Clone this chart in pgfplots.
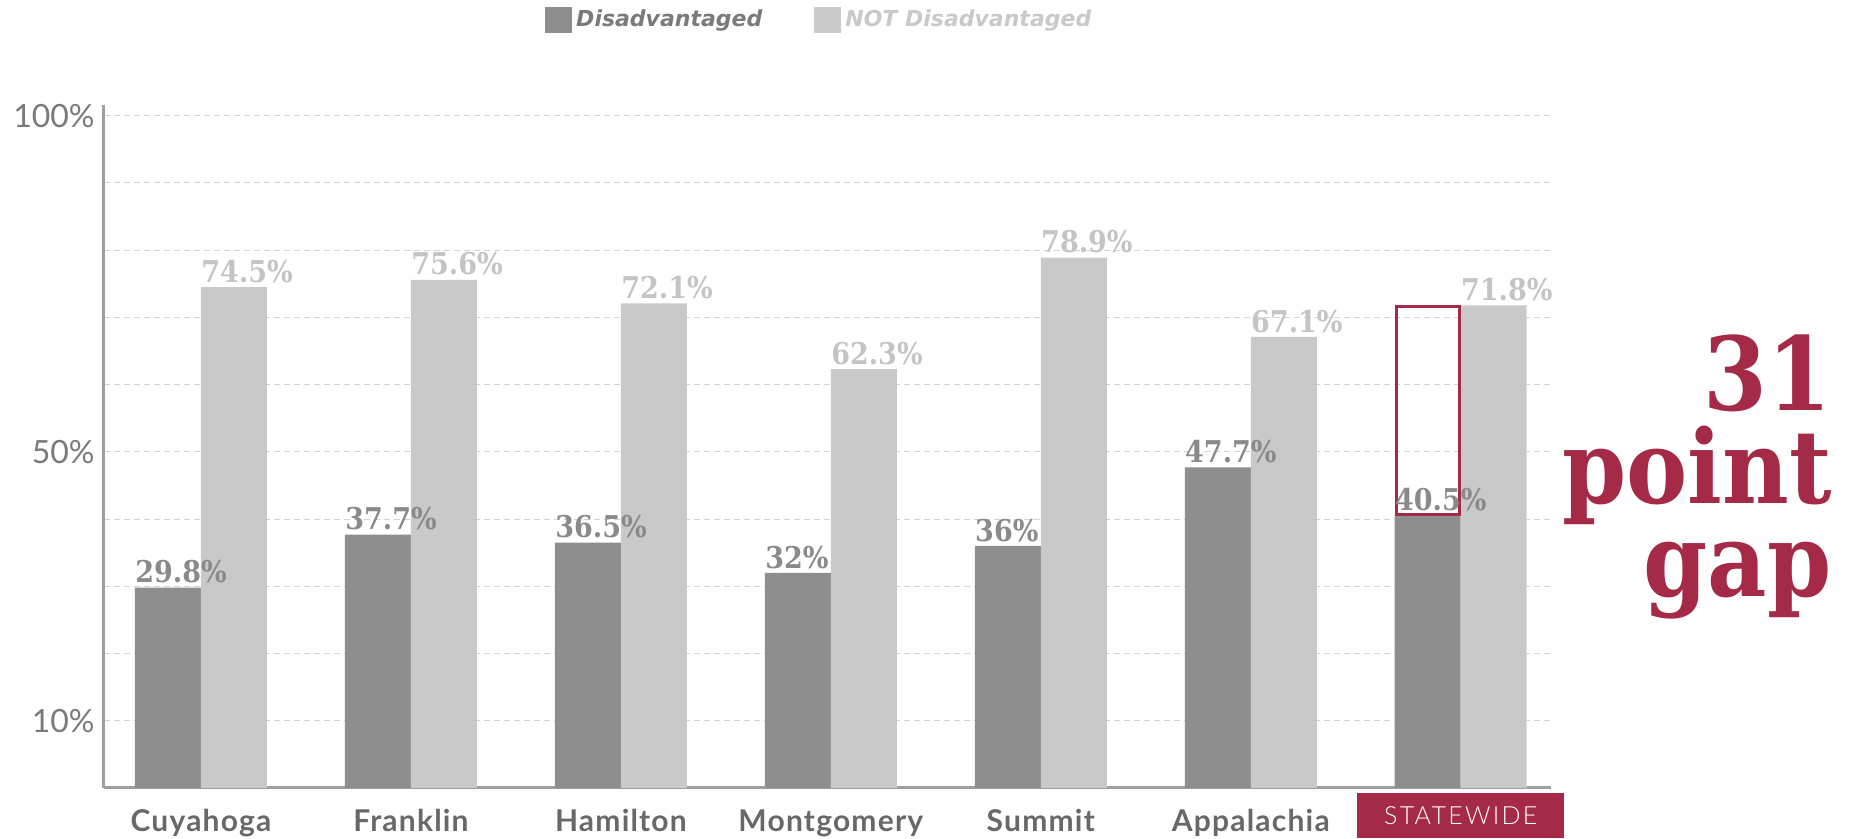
\documentclass[border=0pt]{standalone}
\usepackage{pgfplots}
\pgfplotsset{compat=1.18}
\usepackage{fontspec}
\setmainfont{Lato}
\newfontfamily\slab{DejaVu Serif}[FakeStretch=0.9]
\newfontfamily\legfont{DejaVu Sans}
\newfontfamily\latolight{Lato Light}
\definecolor{darkbar}{HTML}{8E8E8E}
\definecolor{lightbar}{HTML}{C9C9C9}
\definecolor{darklab}{HTML}{8A8A8A}
\definecolor{lightlab}{HTML}{C4C4C4}
\definecolor{gapred}{HTML}{A42A47}
\definecolor{ticktxt}{HTML}{7A7A7A}
\definecolor{cattxt}{HTML}{686868}
\begin{document}
\begin{tikzpicture}
\useasboundingbox (-52pt,-25.5pt) rectangle (874pt,394pt);
\begin{axis}[
  at={(0,0)}, anchor=south west,
  scale only axis, width=723.5pt, height=341.5pt,
  xmin=-0.462, xmax=6.43, ymin=0, ymax=101.6,
  clip=false,
  axis lines=left,
  axis line style={draw=gray!75, line width=1.5pt, -},
  major tick length=0pt,
  ytick={10,20,...,100},
  yticklabels={10\%,,,,50\%,,,,,100\%},
  ymajorgrids,
  grid style={densely dashed, draw=gray!35, line width=0.5pt},
  xtick={0,...,5},
  xticklabels={Cuyahoga,Franklin,Hamilton,Montgomery,Summit,Appalachia},
  xticklabel style={font=\bfseries\fontsize{15}{15}\selectfont\addfontfeatures{LetterSpace=4}, text=cattxt, anchor=base, yshift=-22pt, inner sep=0pt},
  yticklabel style={font=\fontsize{16}{16}\selectfont, text=ticktxt, anchor=east, inner sep=0pt, xshift=-4.5pt},
  /pgf/number format/assume math mode=true,
  ybar=0pt, bar width=33pt,
  nodes near coords={\pgfmathprintnumber{\pgfplotspointmeta}\%},
  every node near coord/.append style={font=\slab\bfseries\fontsize{15}{15}\selectfont, anchor=south west, inner sep=0pt, xshift=-16.5pt, yshift=2pt},
  legend image code/.code={\path[#1] (0pt,-6.5pt) rectangle (13.5pt,6.5pt);},
  legend style={at={(0.495,1)}, anchor=center, yshift=42.5pt, draw=none, fill=none,
    font=\legfont\bfseries\itshape\fontsize{11}{11}\selectfont,
    /tikz/every even column/.append style={column sep=24pt}},
  legend columns=2,
]
\addplot[fill=darkbar, draw=none, every node near coord/.append style={text=darklab}] coordinates {
  (0,29.8) (1,37.7) (2,36.5) (3,32) (4,36) (5,47.7) (6,40.5)};
\addlegendentry{\textcolor{ticktxt}{Disadvantaged}}
\addplot[fill=lightbar, draw=none, every node near coord/.append style={text=lightlab}] coordinates {
  (0,74.5) (1,75.6) (2,72.1) (3,62.3) (4,78.9) (5,67.1) (6,71.8)};
\addlegendentry{\textcolor{lightbar}{NOT Disadvantaged}}
\draw[gapred, line width=1.5pt] ([xshift=-32.25pt,yshift=0.75pt]axis cs:6,40.5) rectangle ([xshift=-0.75pt,yshift=-0.75pt]axis cs:6,71.8);
\node[fill=gapred, text=white, minimum width=103.5pt, minimum height=22.5pt, inner sep=0pt, anchor=north,
  font=\latolight\fontsize{12.5}{12.5}\selectfont\addfontfeatures{LetterSpace=9}] at ([yshift=-2.5pt]axis cs:6,0) {STATEWIDE};
\end{axis}
\node[anchor=base east, align=right, text=gapred, inner sep=0pt,
  font=\slab\bfseries\fontsize{51}{46.5}\selectfont] at (864pt,95.5pt) {31\\point\\gap};
\end{tikzpicture}
\end{document}
